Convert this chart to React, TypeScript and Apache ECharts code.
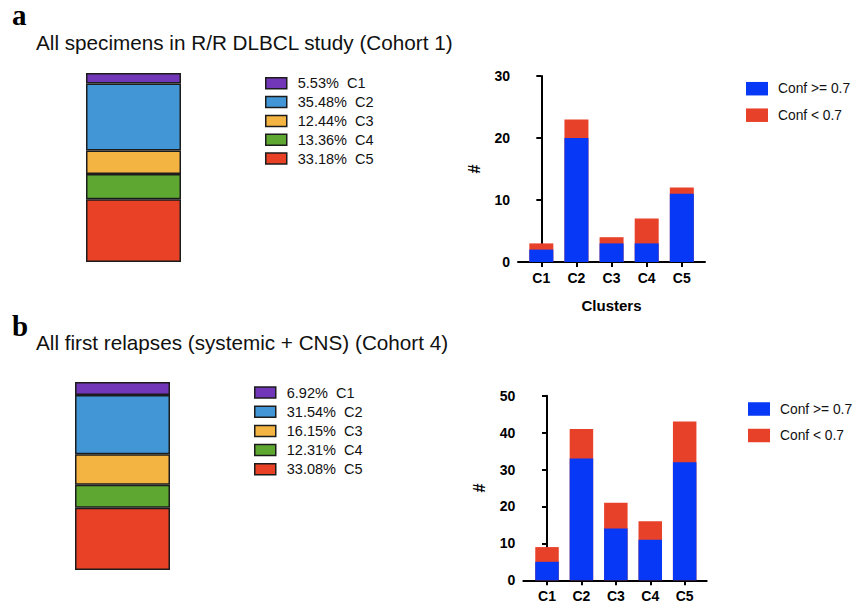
import React, { useEffect, useRef } from "react";
import * as echarts from "echarts";

const clusters = ["C1", "C2", "C3", "C4", "C5"];
const pctA = [5.53, 35.48, 12.44, 13.36, 33.18];
const pctB = [6.92, 31.54, 16.15, 12.31, 33.08];
const clusterColors = ["#7236B8", "#4396D6", "#F4B441", "#5EA832", "#E84126"];
const confNames = ["Conf >= 0.7", "Conf < 0.7"];
const confColors = ["#0638F5", "#E8412A"];
const highA = [2, 20, 3, 3, 11];
const lowA = [1, 3, 1, 4, 1];
const highB = [5, 33, 14, 11, 32];
const lowB = [4, 8, 7, 5, 11];
const yMaxA = 30;
const yMaxB = 50;
const yStep = 10;
const titleA = "All specimens in R/R DLBCL study (Cohort 1)";
const titleB = "All first relapses (systemic + CNS) (Cohort 4)";

const SANS = "'Liberation Sans', Arial, Helvetica, sans-serif";
const SERIF = "'Liberation Serif', 'Times New Roman', serif";
const catIdx = [0, 1, 2, 3, 4];

function valueXAxis(gridIndex: number, min: number, max: number, name: string) {
  return {
    type: "value",
    gridIndex,
    min,
    max,
    name,
    nameLocation: "middle",
    nameGap: 36,
    nameTextStyle: { fontFamily: SANS, fontWeight: "bold", fontSize: 15, color: "#000" },
    splitLine: { show: false },
    axisLine: { show: true, onZero: false, lineStyle: { color: "#000", width: 2 } },
    axisTick: { show: true, customValues: catIdx, length: 5, lineStyle: { color: "#000", width: 2 } },
    axisLabel: {
      customValues: catIdx,
      formatter: (v: number) => clusters[Math.round(v)],
      fontFamily: SANS,
      fontWeight: "bold",
      fontSize: 14,
      color: "#000",
      margin: 9,
    },
  };
}

function valueYAxis(gridIndex: number, max: number) {
  return {
    type: "value",
    gridIndex,
    min: 0,
    max,
    interval: yStep,
    name: "#",
    nameLocation: "middle",
    nameGap: 36,
    nameRotate: 90,
    nameTextStyle: { fontFamily: SANS, fontWeight: "bold", fontSize: 16, color: "#000" },
    splitLine: { show: false },
    axisLine: { show: true, lineStyle: { color: "#000", width: 2 } },
    axisTick: { show: true, length: 5, lineStyle: { color: "#000", width: 2 } },
    axisLabel: { fontFamily: SANS, fontWeight: "bold", fontSize: 14, color: "#000", margin: 8 },
  };
}

function stackSeries(prefix: string, pcts: number[], axisIndex: number) {
  return pcts.map((p, i) => ({
    type: "bar",
    name: `${prefix}-${clusters[i]}`,
    xAxisIndex: axisIndex,
    yAxisIndex: axisIndex,
    stack: prefix,
    barWidth: "100%",
    data: [p],
    itemStyle: { color: clusterColors[i], borderColor: "#1c1c1c", borderWidth: 1.5 },
  }));
}

// Red bar shows the total (high + low); the blue "high" bar is drawn over it,
// so the visible red part is the "low" count stacked on top.
function confSeries(high: number[], low: number[], axisIndex: number, barWidth: number) {
  return [
    {
      type: "bar",
      name: confNames[1],
      xAxisIndex: axisIndex,
      yAxisIndex: axisIndex,
      barWidth,
      barGap: "-100%",
      z: 2,
      data: high.map((v, i) => [i, v + low[i]]),
      itemStyle: { color: confColors[1] },
    },
    {
      type: "bar",
      name: confNames[0],
      xAxisIndex: axisIndex,
      yAxisIndex: axisIndex,
      barWidth,
      barGap: "-100%",
      z: 3,
      data: high.map((v, i) => [i, v]),
      itemStyle: { color: confColors[0] },
    },
  ];
}

function pctLegend(prefix: string, pcts: number[], left: number, top: number, gap: number) {
  return {
    orient: "vertical",
    left,
    top,
    padding: 0,
    icon: "rect",
    itemWidth: 21,
    itemHeight: 11,
    itemGap: gap,
    selectedMode: false,
    data: clusters.map((c) => `${prefix}-${c}`),
    formatter: (name: string) => {
      const i = clusters.indexOf(name.split("-")[1]);
      return `${pcts[i].toFixed(2)}%  ${clusters[i]}`;
    },
    itemStyle: { borderColor: "#1c1c1c", borderWidth: 1.5 },
    textStyle: { fontFamily: SANS, fontSize: 14.5, color: "#111", padding: [0, 0, 0, 6] },
  };
}

function confLegend(left: number, top: number) {
  return {
    orient: "vertical",
    left,
    top,
    padding: 0,
    icon: "rect",
    itemWidth: 22,
    itemHeight: 13.5,
    itemGap: 12.5,
    selectedMode: false,
    data: confNames,
    textStyle: { fontFamily: SANS, fontSize: 13.8, color: "#111", padding: [0, 0, 0, 5] },
  };
}

export default function App() {
  const ref = useRef<HTMLDivElement>(null);
  useEffect(() => {
    if (!ref.current) return;
    const chart = echarts.init(ref.current, null, { renderer: "svg" });
    const sumA = pctA.reduce((a, b) => a + b, 0);
    const sumB = pctB.reduce((a, b) => a + b, 0);
    chart.setOption({
      animation: false,
      backgroundColor: "#fff",
      grid: [
        { left: 86, top: 73, width: 95, height: 189 },
        { left: 518, top: 76, width: 187, height: 186 },
        { left: 75, top: 382, width: 95, height: 188 },
        { left: 523.3, top: 395.7, width: 183.4, height: 184.6 },
      ],
      xAxis: [
        { type: "category", gridIndex: 0, data: ["a"], show: false },
        valueXAxis(1, -0.664, 4.66, "Clusters"),
        { type: "category", gridIndex: 2, data: ["b"], show: false },
        valueXAxis(3, -0.689, 4.64, ""),
      ],
      yAxis: [
        { type: "value", gridIndex: 0, min: 0, max: sumA, inverse: true, show: false },
        valueYAxis(1, yMaxA),
        { type: "value", gridIndex: 2, min: 0, max: sumB, inverse: true, show: false },
        valueYAxis(3, yMaxB),
      ],
      legend: [
        pctLegend("a", pctA, 265, 75.8, 3.8),
        confLegend(746, 81.7),
        pctLegend("b", pctB, 254, 385, 4.2),
        confLegend(748, 402),
      ],
      series: [
        ...stackSeries("a", pctA, 0),
        ...confSeries(highA, lowA, 1, 24),
        ...stackSeries("b", pctB, 2),
        ...confSeries(highB, lowB, 3, 23.5),
      ],
      graphic: [
        { type: "text", left: 12, top: 0, style: { text: "a", font: `bold 29px ${SERIF}`, fill: "#000" } },
        { type: "text", left: 12, top: 311, style: { text: "b", font: `bold 29px ${SERIF}`, fill: "#000" } },
        { type: "text", x: 36, y: 42.5, style: { text: titleA, font: `20.7px ${SANS}`, fill: "#111", verticalAlign: "middle" } },
        { type: "text", x: 36, y: 342.5, style: { text: titleB, font: `20.7px ${SANS}`, fill: "#111", verticalAlign: "middle" } },
      ],
    });
    return () => chart.dispose();
  }, []);
  return <div ref={ref} style={{ position: "absolute", left: 0, top: 0, width: 860, height: 609 }} />;
}
